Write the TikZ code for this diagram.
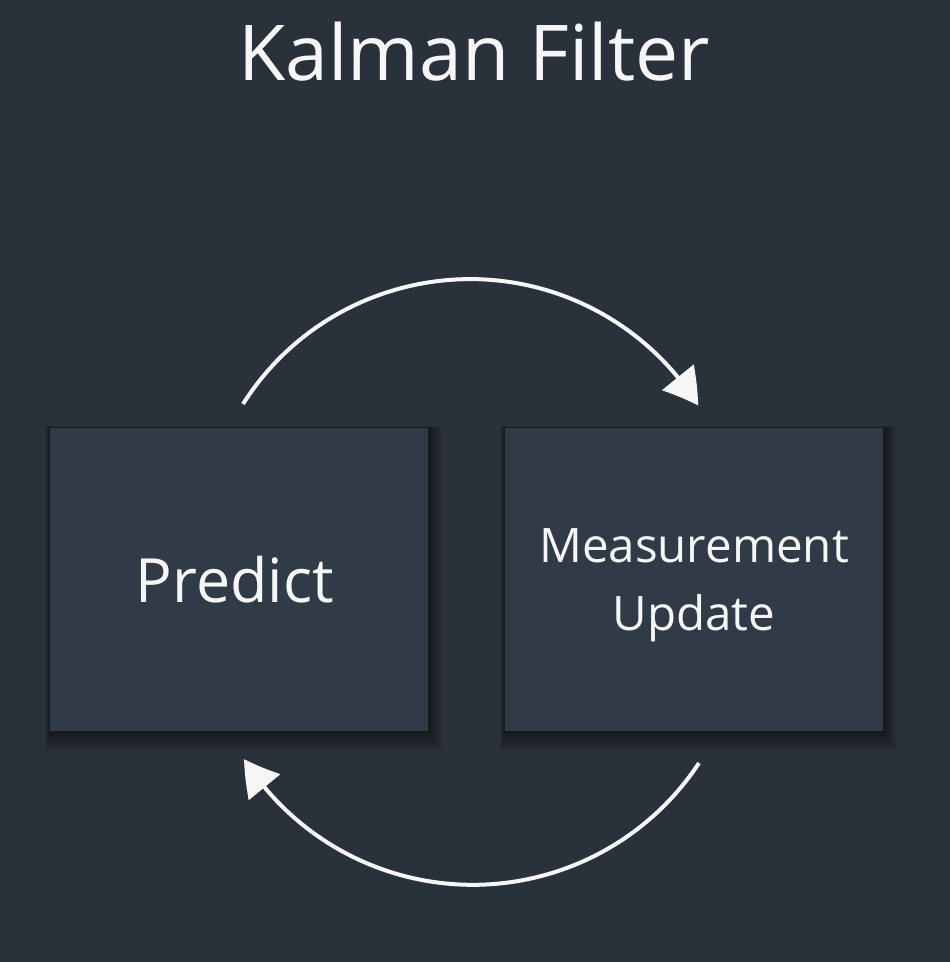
\documentclass[tikz,border=0pt]{standalone}
\usepackage{fontspec}
\setmainfont{Open Sans}
\usetikzlibrary{arrows.meta,bending}
\definecolor{bgc}{RGB}{41,49,58}
\definecolor{boxc}{RGB}{49,59,71}
\definecolor{txtc}{RGB}{246,246,246}
\tikzset{
  stepbox/.style={fill=boxc, draw=none, minimum width=378pt, minimum height=303pt, inner sep=0pt, text=txtc, align=center},
  flow/.style={draw=txtc, line width=4pt, -{Triangle[length=35pt,width=40pt,bend]}},
  shade layer/.style={fill=black, draw=none, opacity=0.025}
}
\begin{document}
\begin{tikzpicture}[x=1pt,y=-1pt]
\fill[bgc] (0,0) rectangle (950,962);
\useasboundingbox (0,0) rectangle (950,962);
% soft shadows
\foreach \d in {1,2,...,20}{
  \fill[shade layer] (50-\d*0.25,428-\d*0.1) rectangle (428+\d*0.7,731+\d);
  \fill[shade layer] (505-\d*0.25,428-\d*0.1) rectangle (883+\d*0.7,731+\d);
}
\node[text=txtc, anchor=base, font=\fontsize{77}{90}\selectfont] (title) at (474,80) {Kalman Filter};
\node[stepbox, font=\fontsize{61}{70}\selectfont, text width=378pt] (predict) at (239,579.5) {\hspace*{-8pt}Predict};
\node[stepbox, font=\fontsize{47.5}{68}\selectfont, text depth=0pt] (measure) at (694,579.5) {Measurement\\Update};
\coordinate (topstart) at (243,404);
\coordinate (botstart) at (699,763);
\draw[flow] (topstart) arc[start angle=212.4, end angle=328, radius=269];
\draw[flow] (botstart) arc[start angle=33.4, end angle=147.6, radius=271];
\end{tikzpicture}
\end{document}
